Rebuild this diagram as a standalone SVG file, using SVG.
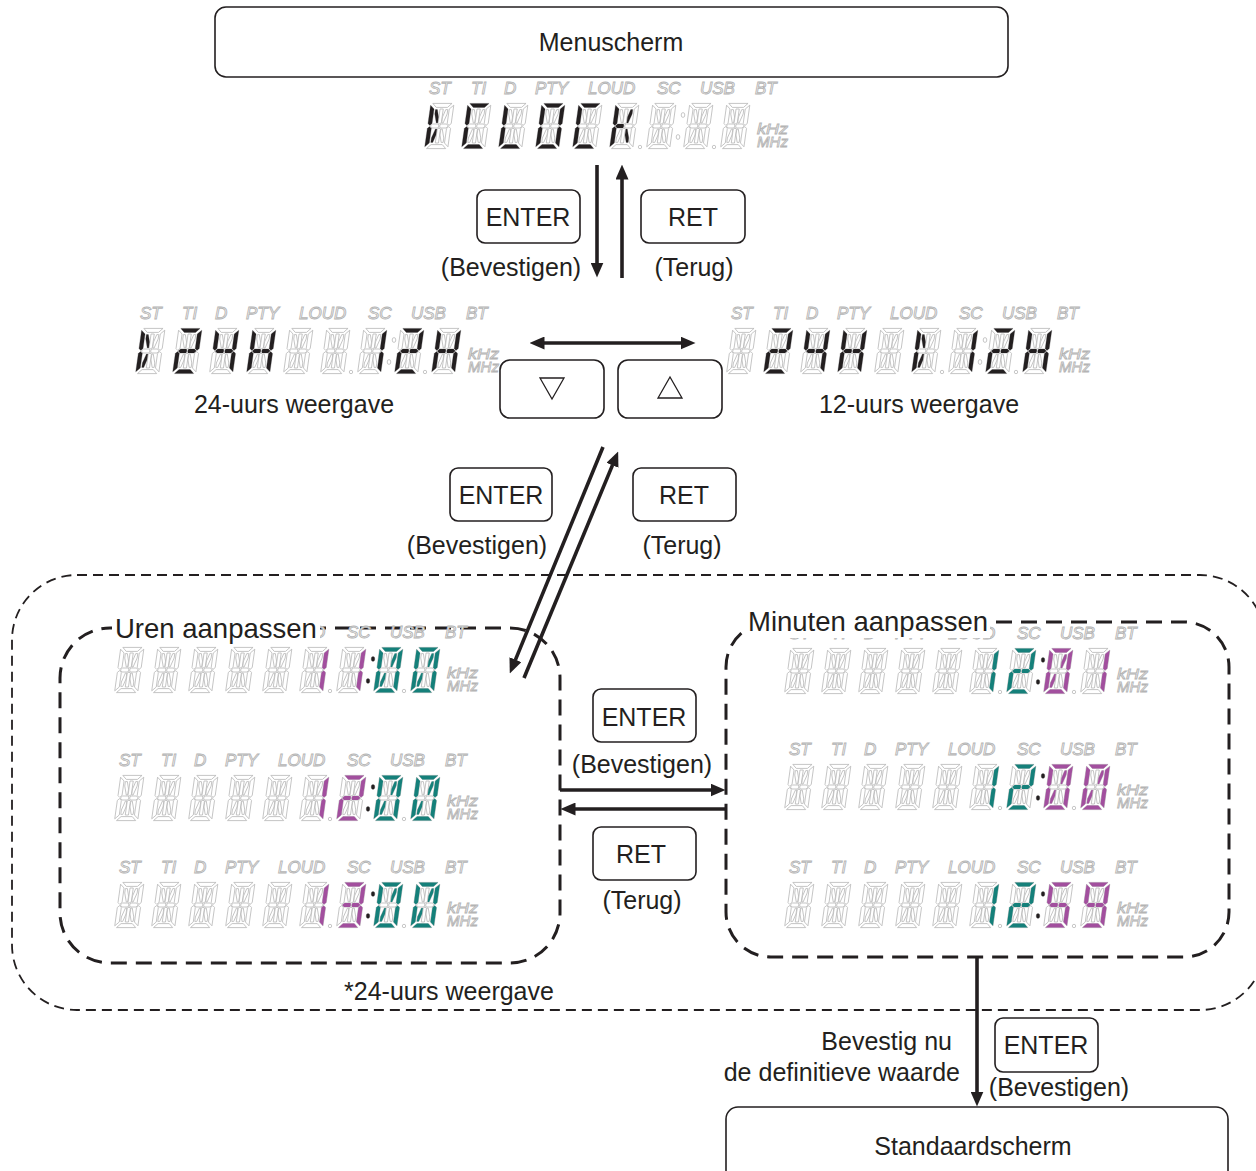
<svg xmlns="http://www.w3.org/2000/svg" xmlns:xlink="http://www.w3.org/1999/xlink" width="1256" height="1171" viewBox="0 0 1256 1171">
<style>
.t{font-family:"Liberation Sans",Arial,sans-serif;font-size:25px;fill:#231f20}
.lb{font-family:"Liberation Sans",Arial,sans-serif;font-size:27.5px;fill:#231f20}
.box{fill:#fff;stroke:#231f20;stroke-width:1.6}
.ln{stroke:#231f20;stroke-width:3.6;fill:none}
.gh{fill:#fff;stroke:#b9b9b9;stroke-width:0.8}
.ind{font-family:"Liberation Sans",Arial,sans-serif;font-style:italic;font-size:17px;fill:#fff;stroke:#b4b4b4;stroke-width:0.9}
.hz{font-family:"Liberation Sans",Arial,sans-serif;font-style:italic;font-size:14px;fill:#fff;stroke:#b4b4b4;stroke-width:0.8}
.k{fill:#231f20;stroke:none}
.p{fill:#a24f9e;stroke:none}
.q{fill:#15807a;stroke:none}
.dsh1{fill:none;stroke:#231f20;stroke-width:1.8;stroke-dasharray:10 6}
.dsh2{fill:none;stroke:#231f20;stroke-width:3;stroke-dasharray:16 9}
.tri{fill:none;stroke:#231f20;stroke-width:1.3}
</style>
<defs>
<marker id="ah" viewBox="0 0 15 13" refX="0.5" refY="6.5" markerWidth="15" markerHeight="13" markerUnits="userSpaceOnUse" orient="auto-start-reverse"><path d="M0,0 L15,6.5 L0,13 z" fill="#231f20"/></marker>
<polygon id="sa" points="2.4,0.4 21.6,0.4 17.6,4.4 6.4,4.4"/>
<polygon id="sd" points="6.4,41.6 17.6,41.6 21.6,45.6 2.4,45.6"/>
<polygon id="sf" points="0.4,2.2 4.4,6 4.4,20.4 2.4,22.4 0.4,20.6"/>
<polygon id="sb" points="23.6,2.2 23.6,20.6 21.6,22.4 19.6,20.4 19.6,6"/>
<polygon id="se" points="0.4,25.4 2.4,23.6 4.4,25.6 4.4,40 0.4,43.8"/>
<polygon id="sc" points="23.6,25.4 23.6,43.8 19.6,40 19.6,25.6 21.6,23.6"/>
<polygon id="sg" points="3,23 5,21 11,21 11.6,23 11,25 5,25"/>
<polygon id="sG" points="12.4,23 13,21 19,21 21,23 19,25 13,25"/>
<polygon id="si" points="10.4,6 13.6,6 13.6,19.6 12,21 10.4,19.6"/>
<polygon id="sh" points="5.8,6.6 7.8,6.6 10,14 10,20 8.6,20 5.8,11"/>
<polygon id="sj" points="18.2,6.6 16.2,6.6 14,14 14,20 15.4,20 18.2,11"/>
<polygon id="sk" points="5.8,39.4 7.8,39.4 10,32 10,26 8.6,26 5.8,35"/>
<polygon id="sl" points="10.4,26.4 12,25 13.6,26.4 13.6,40 10.4,40"/>
<polygon id="sm" points="18.2,39.4 16.2,39.4 14,32 14,26 15.4,26 18.2,35"/>
<g id="gd" transform="skewX(-8)"><use href="#sa"/><use href="#sb"/><use href="#sc"/><use href="#sd"/><use href="#se"/><use href="#sf"/><use href="#sg"/><use href="#sG"/><use href="#sh"/><use href="#si"/><use href="#sj"/><use href="#sk"/><use href="#sl"/><use href="#sm"/></g>
<g id="D0" transform="skewX(-8)"><use href="#sa"/><use href="#sb"/><use href="#sc"/><use href="#sd"/><use href="#se"/><use href="#sf"/><use href="#sj"/><use href="#sk"/></g>
<g id="D1" transform="skewX(-8)"><use href="#sb"/><use href="#sc"/></g>
<g id="D2" transform="skewX(-8)"><use href="#sa"/><use href="#sb"/><use href="#sg"/><use href="#sG"/><use href="#se"/><use href="#sd"/></g>
<g id="D3" transform="skewX(-8)"><use href="#sa"/><use href="#sb"/><use href="#sg"/><use href="#sG"/><use href="#sc"/><use href="#sd"/></g>
<g id="D4" transform="skewX(-8)"><use href="#sf"/><use href="#sb"/><use href="#sg"/><use href="#sG"/><use href="#sc"/></g>
<g id="D5" transform="skewX(-8)"><use href="#sa"/><use href="#sf"/><use href="#sg"/><use href="#sG"/><use href="#sc"/><use href="#sd"/></g>
<g id="D9" transform="skewX(-8)"><use href="#sa"/><use href="#sb"/><use href="#sf"/><use href="#sg"/><use href="#sG"/><use href="#sc"/><use href="#sd"/></g>
<g id="DH" transform="skewX(-8)"><use href="#sf"/><use href="#se"/><use href="#sb"/><use href="#sc"/><use href="#sg"/><use href="#sG"/></g>
<g id="DC" transform="skewX(-8)"><use href="#sa"/><use href="#sf"/><use href="#se"/><use href="#sd"/></g>
<g id="DL" transform="skewX(-8)"><use href="#sf"/><use href="#se"/><use href="#sd"/></g>
<g id="DO" transform="skewX(-8)"><use href="#sa"/><use href="#sb"/><use href="#sc"/><use href="#sd"/><use href="#se"/><use href="#sf"/></g>
<g id="DK" transform="skewX(-8)"><use href="#sf"/><use href="#se"/><use href="#sg"/><use href="#sj"/><use href="#sm"/></g>
<g id="Dcur" transform="skewX(-8)"><use href="#sf"/><use href="#sh"/><use href="#sk"/><use href="#se"/></g>
<g id="col"><ellipse cx="259" cy="12" rx="1.8" ry="2.4"/><ellipse cx="254" cy="34" rx="1.8" ry="2.4"/></g>
<g id="disp" class="gh">
<text class="ind" x="5" y="-9">ST</text>
<text class="ind" x="47" y="-9">TI</text>
<text class="ind" x="80" y="-9">D</text>
<text class="ind" x="111" y="-9">PTY</text>
<text class="ind" x="164" y="-9">LOUD</text>
<text class="ind" x="233" y="-9">SC</text>
<text class="ind" x="276" y="-9">USB</text>
<text class="ind" x="331" y="-9">BT</text>
<use href="#gd" x="6.5"/><use href="#gd" x="43.5"/><use href="#gd" x="80.5"/><use href="#gd" x="117.5"/><use href="#gd" x="154.5"/><use href="#gd" x="191.5"/><use href="#gd" x="228.5"/><use href="#gd" x="265.5"/><use href="#gd" x="302.5"/>
<circle cx="216" cy="44" r="1.7"/>
<use href="#col"/>
<circle cx="290" cy="44" r="1.7"/>
<text class="hz" x="333" y="31" textLength="31" lengthAdjust="spacingAndGlyphs">kHz</text>
<text class="hz" x="333" y="44" textLength="31" lengthAdjust="spacingAndGlyphs">MHz</text>
</g>
</defs>
<rect width="1256" height="1171" fill="#fff"/>

<g id="frames">
<rect class="dsh1" x="12" y="575" width="1253" height="435" rx="65"/>
<rect class="dsh2" x="60" y="628" width="500" height="335" rx="50"/>
<rect class="dsh2" x="726" y="622" width="503" height="335" rx="45"/>
</g>

<g id="menuscherm"><rect class="box" x="215" y="7" width="793" height="70" rx="11"/><text class="t" x="611" y="51" text-anchor="middle">Menuscherm</text></g>

<g id="lcd-clock" transform="translate(424,103)"><use href="#disp"/><g class="k"><use href="#Dcur" x="6.5"/><use href="#DC" x="43.5"/><use href="#DL" x="80.5"/><use href="#DO" x="117.5"/><use href="#DC" x="154.5"/><use href="#DK" x="191.5"/></g></g>

<g id="enter1"><rect class="box" x="477" y="190" width="103" height="53" rx="8"/><text class="t" x="528" y="226" text-anchor="middle">ENTER</text><text class="t" x="511" y="276" text-anchor="middle">(Bevestigen)</text></g>
<g id="ret1"><rect class="box" x="641" y="190" width="104" height="53" rx="8"/><text class="t" x="693" y="226" text-anchor="middle">RET</text><text class="t" x="694" y="276" text-anchor="middle">(Terug)</text></g>

<g id="lcd-24h" transform="translate(135,328)"><use href="#disp"/><g class="k"><use href="#Dcur" x="6.5"/><use href="#D2" x="43.5"/><use href="#D4" x="80.5"/><use href="#DH" x="117.5"/><use href="#D1" x="228.5"/><use href="#D2" x="265.5"/><use href="#DH" x="302.5"/></g></g>
<text class="t" x="294" y="413" text-anchor="middle">24-uurs weergave</text>

<g id="lcd-12h" transform="translate(726,328)"><use href="#disp"/><g class="k"><use href="#D2" x="43.5"/><use href="#D4" x="80.5"/><use href="#DH" x="117.5"/><use href="#Dcur" x="191.5"/><use href="#D1" x="228.5"/><use href="#D2" x="265.5"/><use href="#DH" x="302.5"/></g></g>
<text class="t" x="919" y="413" text-anchor="middle">12-uurs weergave</text>

<g id="btn-down"><rect class="box" x="500" y="360" width="104" height="58" rx="10"/><polygon class="tri" points="540,378 564,378 552,399"/></g>
<g id="btn-up"><rect class="box" x="618" y="360" width="104" height="58" rx="10"/><polygon class="tri" points="658,398 682,398 670,377"/></g>

<g id="enter2"><rect class="box" x="450" y="468" width="102" height="53" rx="8"/><text class="t" x="501" y="504" text-anchor="middle">ENTER</text><text class="t" x="477" y="554" text-anchor="middle">(Bevestigen)</text></g>
<g id="ret2"><rect class="box" x="633" y="468" width="103" height="53" rx="8"/><text class="t" x="684" y="504" text-anchor="middle">RET</text><text class="t" x="682" y="554" text-anchor="middle">(Terug)</text></g>

<g id="hours">
<g transform="translate(114,647)"><use href="#disp"/><use href="#col" class="k"/><g class="p"><use href="#D1" x="191.5"/><use href="#D1" x="228.5"/></g><g class="q"><use href="#D0" x="265.5"/><use href="#D0" x="302.5"/></g></g>
<g transform="translate(114,775)"><use href="#disp"/><use href="#col" class="k"/><g class="p"><use href="#D1" x="191.5"/><use href="#D2" x="228.5"/></g><g class="q"><use href="#D0" x="265.5"/><use href="#D0" x="302.5"/></g></g>
<g transform="translate(114,882)"><use href="#disp"/><use href="#col" class="k"/><g class="p"><use href="#D1" x="191.5"/><use href="#D3" x="228.5"/></g><g class="q"><use href="#D0" x="265.5"/><use href="#D0" x="302.5"/></g></g>
<rect x="112" y="612" width="208" height="32" fill="#fff"/>
<text class="lb" x="115" y="638">Uren aanpassen</text>
</g>

<g id="minutes">
<g transform="translate(784,648)"><use href="#disp"/><use href="#col" class="k"/><g class="q"><use href="#D1" x="191.5"/><use href="#D2" x="228.5"/></g><g class="p"><use href="#D0" x="265.5"/><use href="#D1" x="302.5"/></g></g>
<g transform="translate(784,764)"><use href="#disp"/><use href="#col" class="k"/><g class="q"><use href="#D1" x="191.5"/><use href="#D2" x="228.5"/></g><g class="p"><use href="#D0" x="265.5"/><use href="#D0" x="302.5"/></g></g>
<g transform="translate(784,882)"><use href="#disp"/><use href="#col" class="k"/><g class="q"><use href="#D1" x="191.5"/><use href="#D2" x="228.5"/></g><g class="p"><use href="#D5" x="265.5"/><use href="#D9" x="302.5"/></g></g>
<rect x="746" y="605" width="244" height="33" fill="#fff"/>
<text class="lb" x="748" y="631">Minuten aanpassen</text>
</g>

<g id="enter3"><rect class="box" x="593" y="689" width="103" height="53" rx="8"/><text class="t" x="644" y="726" text-anchor="middle">ENTER</text><text class="t" x="642" y="773" text-anchor="middle">(Bevestigen)</text></g>
<g id="ret3"><rect class="box" x="593" y="827" width="103" height="53" rx="8"/><text class="t" x="641" y="863" text-anchor="middle">RET</text><text class="t" x="642" y="909" text-anchor="middle">(Terug)</text></g>

<text class="t" x="449" y="1000" text-anchor="middle">*24-uurs weergave</text>

<g id="enter4"><rect class="box" x="995" y="1018" width="103" height="54" rx="8"/><text class="t" x="1046" y="1054" text-anchor="middle">ENTER</text><text class="t" x="1059" y="1096" text-anchor="middle">(Bevestigen)</text></g>
<text class="t" x="952" y="1050" text-anchor="end">Bevestig nu</text>
<text class="t" x="960" y="1081" text-anchor="end">de definitieve waarde</text>

<g id="standaardscherm"><rect class="box" x="726" y="1107" width="502" height="80" rx="12"/><text class="t" x="973" y="1155" text-anchor="middle">Standaardscherm</text></g>

<g id="connectors">
<line class="ln" x1="597" y1="165" x2="597" y2="263" marker-end="url(#ah)"/>
<line class="ln" x1="622" y1="278" x2="622" y2="179" marker-end="url(#ah)"/>
<line class="ln" x1="544" y1="343" x2="681" y2="343" marker-start="url(#ah)" marker-end="url(#ah)"/>
<line class="ln" x1="603" y1="447" x2="515.3" y2="660.1" marker-end="url(#ah)"/>
<line class="ln" x1="524" y1="678" x2="612.6" y2="464.9" marker-end="url(#ah)"/>
<line class="ln" x1="560" y1="790" x2="711" y2="790" marker-end="url(#ah)"/>
<line class="ln" x1="726" y1="809" x2="575" y2="809" marker-end="url(#ah)"/>
<line class="ln" x1="977" y1="957" x2="977" y2="1092" marker-end="url(#ah)"/>
</g>
</svg>
